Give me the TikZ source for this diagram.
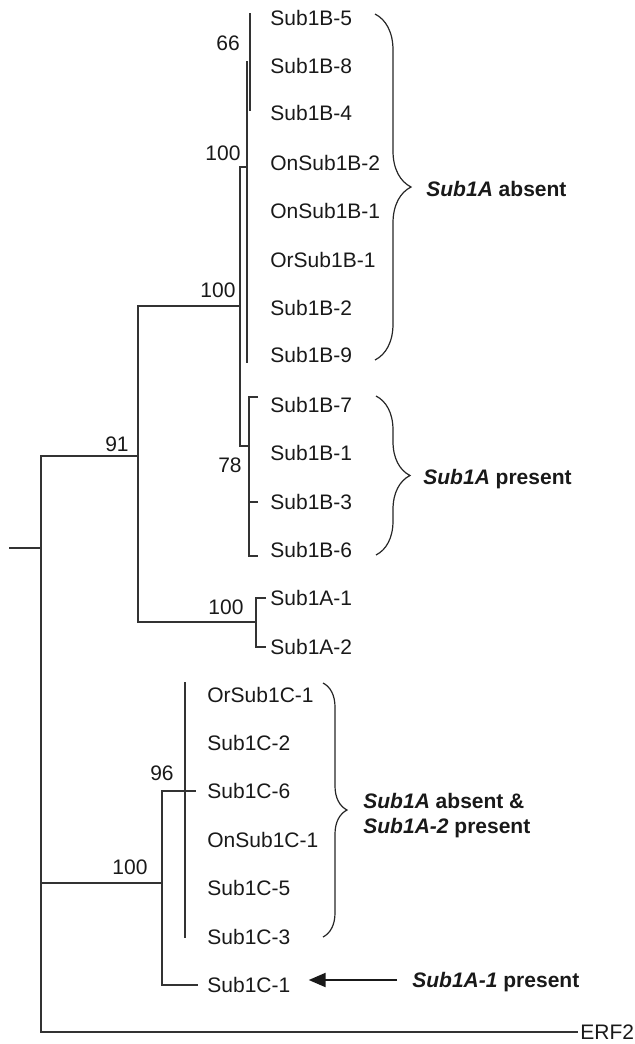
\documentclass[tikz,border=0pt]{standalone}
\usepackage{fontspec}
\setmainfont{Liberation Sans}
\usetikzlibrary{arrows.meta, decorations.pathreplacing}

\begin{document}
\begin{tikzpicture}[
    x=0.5pt, y=-0.5pt,
    taxon/.style={anchor=west, inner xsep=1pt, inner ysep=1pt, text height=7.5pt, text depth=0pt, font=\fontsize{10.5}{12.5}\selectfont, text=black!90},
    support/.style={inner sep=0pt, text height=7.5pt, text depth=0pt, font=\fontsize{10.5}{12.5}\selectfont, text=black!90},
    note/.style={anchor=west, inner xsep=1pt, align=left, font=\bfseries\fontsize{10.5}{12.5}\selectfont, text=black!90},
    branch/.style={draw=black!80, line width=0.6pt},
    bracket/.style={draw=black!85, line width=0.6pt, decorate, decoration={brace, amplitude=#1}},
    arrow/.style={draw=black!90, line width=1.1pt, -{Triangle[length=8.5pt, width=7pt]}}
]
\useasboundingbox (0,0) rectangle (635,1044);

% Taxa
\node[taxon] (b5) at (268,18) {Sub1B-5};
\node[taxon] (b8) at (268,66) {Sub1B-8};
\node[taxon] (b4) at (268,113) {Sub1B-4};
\node[taxon] (onb2) at (268,163) {OnSub1B-2};
\node[taxon] (onb1) at (268,211) {OnSub1B-1};
\node[taxon] (orb1) at (268,260) {OrSub1B-1};
\node[taxon] (b2) at (268,308) {Sub1B-2};
\node[taxon] (b9) at (268,355) {Sub1B-9};
\node[taxon] (b7) at (268,405) {Sub1B-7};
\node[taxon] (b1) at (268,453) {Sub1B-1};
\node[taxon] (b3) at (268,502) {Sub1B-3};
\node[taxon] (b6) at (268,550) {Sub1B-6};
\node[taxon] (a1) at (268,598) {Sub1A-1};
\node[taxon] (a2) at (268,647) {Sub1A-2};
\node[taxon] (orc1) at (205,695) {OrSub1C-1};
\node[taxon] (c2) at (205,743) {Sub1C-2};
\node[taxon] (c6) at (205,791) {Sub1C-6};
\node[taxon] (onc1) at (205,840) {OnSub1C-1};
\node[taxon] (c5) at (205,888) {Sub1C-5};
\node[taxon] (c3) at (205,937) {Sub1C-3};
\node[taxon] (c1) at (205,985) {Sub1C-1};
\node[taxon] (erf) at (578,1032) {ERF2};

% Internal nodes
\coordinate (stub) at (9,548);
\coordinate (root) at (41,548);
\coordinate (n91) at (138,456);
\coordinate (n100c) at (162,883);
\coordinate (n100b) at (240,306);
\coordinate (n100a) at (247,167);
\coordinate (n100s) at (256,622);
\coordinate (n78) at (249,446);

% Branches
\draw[branch] (stub) -- (root);
\draw[branch] (n91) -| (erf.west -| root) -- (erf.west);
\draw[branch] (n100c) -- (n100c -| root);
\draw[branch] (n100b) -| (n91) |- (n100s);
\draw[branch, shorten <=1pt, shorten >=1pt] (a1.west) -| (n100s) |- (a2.west);
\draw[branch] (n100a) -| (n100b) |- (n78);
\draw[branch] (247,61) -- (247,363);
\draw[branch] (250,13) -- (250,111);
\draw[branch, shorten <=5pt, shorten >=5pt] ([yshift=4pt]b7.west) -| (n78) |- ([yshift=-3pt]b6.west);
\draw[branch, shorten <=5pt] (b3.west) -- (b3.west -| n78);
\draw[branch, shorten >=4.5pt] (n100c) |- (c6.west);
\draw[branch, shorten >=3.5pt] (n100c) |- (c1.west);
\draw[branch] (185,682) -- (185,938);

% Support values
\node[support] (s66) at (228,43) {66};
\node[support] (s100a) at (223,153) {100};
\node[support] (s100b) at (218,290) {100};
\node[support] (s91) at (117,444) {91};
\node[support] (s78) at (230,465) {78};
\node[support] (s100s) at (226,607) {100};
\node[support] (s96) at (162,773) {96};
\node[support] (s100c) at (130,867) {100};

% Groups
\draw[bracket=18pt] (375,14) -- (375,360);
\draw[bracket=17pt] (376,396) -- (376,555);
\draw[bracket=12pt] (323,683) -- (323,937);
\node[note, text height=7.5pt, text depth=0pt] (absent) at (424,189) {\textit{Sub1A} absent};
\node[note, text height=7.5pt, text depth=0pt] (present) at (421,477) {\textit{Sub1A} present};
\node[note] (mixed) at (361,816) {\textit{Sub1A} absent \&\\\textit{Sub1A-2} present};
\node[note, text height=7.5pt, text depth=0pt] (onepresent) at (410,980) {\textit{Sub1A-1} present};

% Pointer
\draw[arrow, shorten <=6.5pt, shorten >=8pt] (onepresent.west) -- (onepresent.west -| c1.east);

\end{tikzpicture}
\end{document}
